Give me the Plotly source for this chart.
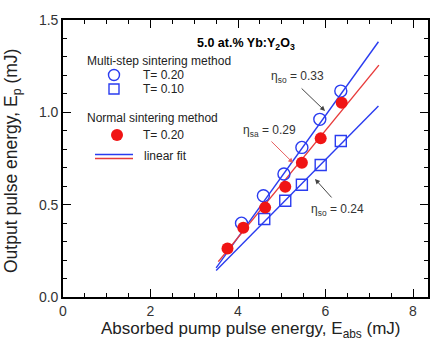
import plotly.graph_objects as go
import numpy as np

# ---- data ----
multi_T020_x = [4.08, 4.58, 5.05, 5.46, 5.87, 6.35]
multi_T020_y = [0.40, 0.548, 0.666, 0.81, 0.962, 1.115]
multi_T010_x = [4.60, 5.08, 5.46, 5.89, 6.35]
multi_T010_y = [0.422, 0.521, 0.608, 0.715, 0.845]
normal_T020_x = [3.76, 4.12, 4.62, 5.08, 5.46, 5.89, 6.37]
normal_T020_y = [0.263, 0.375, 0.484, 0.597, 0.727, 0.859, 1.052]

fit_names = ["multi_020", "normal_020", "multi_010"]
fit_slopes = [0.33, 0.29, 0.24]
fit_intercepts = [-0.997, -0.838, -0.696]
fit_x_start = [3.5, 3.55, 3.5]
fit_x_end = [7.21, 7.22, 7.21]

x_ticks = [0, 2, 4, 6, 8]
y_ticks = [0.0, 0.5, 1.0, 1.5]

BLUE = "#2a3cf0"
RED = "#f01414"
REDLINE = "#e83a3a"
FONT = "Liberation Sans, Arial, sans-serif"

fig = go.Figure()

fit_colors = [BLUE, REDLINE, BLUE]
for s, b, x0, x1, c in zip(fit_slopes, fit_intercepts, fit_x_start, fit_x_end, fit_colors):
    xs = np.array([x0, x1])
    fig.add_trace(go.Scatter(x=xs, y=s * xs + b, mode="lines",
                             line=dict(color=c, width=1.4), showlegend=False))

fig.add_trace(go.Scatter(x=multi_T020_x, y=multi_T020_y, mode="markers",
                         marker=dict(symbol="circle-open", size=12, color=BLUE,
                                     line=dict(width=1.4, color=BLUE)), showlegend=False))
fig.add_trace(go.Scatter(x=multi_T010_x, y=multi_T010_y, mode="markers",
                         marker=dict(symbol="square-open", size=11, color=BLUE,
                                     line=dict(width=1.4, color=BLUE)), showlegend=False))
fig.add_trace(go.Scatter(x=normal_T020_x, y=normal_T020_y, mode="markers",
                         marker=dict(symbol="circle", size=12, color=RED,
                                     line=dict(width=0)), showlegend=False))

L, T, W, H = 63, 20, 365, 277
def px(x):
    return (x - L) / W
def py(y):
    return (T + H - y) / H

annotations = []
def txt(text, x, y, size=12, xanchor="left", bold=False, color="#222", angle=0):
    annotations.append(dict(text=("<b>%s</b>" % text) if bold else text,
                            x=px(x), y=py(y), xref="paper", yref="paper",
                            xanchor=xanchor, yanchor="middle", showarrow=False,
                            textangle=angle,
                            font=dict(family=FONT, size=size, color=color)))

txt("5.0 at.% Yb:Y<sub>2</sub>O<sub>3</sub>", 246, 44, size=12.5, xanchor="center", bold=True, color="#000")
txt("Multi-step sintering method", 85, 61, size=12)
txt("T= 0.20", 141, 75, size=12)
txt("T= 0.10", 141, 89, size=12)
txt("Normal sintering method", 85, 118, size=12)
txt("T= 0.20", 141, 135, size=12)
txt("linear fit", 142, 156, size=12)

# axis titles
txt("Absorbed pump pulse energy, E<sub>abs</sub> (mJ)", 251, 330, size=17, xanchor="center")
txt("Output pulse energy, E<sub>p</sub> (mJ)", 12, 161, size=17.5, xanchor="center", angle=-90)

# efficiency labels
annotations.append(dict(text="η<sub>so</sub> = 0.33", x=5.37, y=1.19, xref="x", yref="y",
                        showarrow=False, font=dict(family=FONT, size=12, color="#333")))
annotations.append(dict(text="η<sub>sa</sub> = 0.29", x=4.72, y=0.90, xref="x", yref="y",
                        showarrow=False, font=dict(family=FONT, size=12, color="#333")))
annotations.append(dict(text="η<sub>so</sub> = 0.24", x=6.28, y=0.47, xref="x", yref="y",
                        showarrow=False, font=dict(family=FONT, size=12, color="#333")))
# arrows
for (hx, hy, tx, ty, c) in [(5.99, 1.007, 5.42, 1.137, "#444"),
                            (5.26, 0.726, 4.73, 0.85, "#e86060"),
                            (5.76, 0.639, 6.17, 0.531, "#444")]:
    annotations.append(dict(text="", x=hx, y=hy, ax=tx, ay=ty, xref="x", yref="y",
                            axref="x", ayref="y", showarrow=True, arrowhead=2,
                            arrowsize=1, arrowwidth=1, arrowcolor=c))

shapes = []
def mk(kind, x, y, r, color, fill):
    shapes.append(dict(type=kind, xref="paper", yref="paper", xsizemode="pixel",
                       ysizemode="pixel", xanchor=px(x), yanchor=py(y),
                       x0=-r, x1=r, y0=-r, y1=r,
                       line=dict(color=color, width=1.4 if fill is None else 0),
                       fillcolor=fill if fill else "rgba(0,0,0,0)"))
mk("circle", 114, 75, 5.5, BLUE, None)
mk("rect", 114, 89, 5, BLUE, None)
mk("circle", 117, 135, 6, RED, RED)
shapes.append(dict(type="line", xref="paper", yref="paper", x0=px(95), x1=px(133),
                   y0=py(154.5), y1=py(154.5), line=dict(color=BLUE, width=1.6)))
shapes.append(dict(type="line", xref="paper", yref="paper", x0=px(95), x1=px(133),
                   y0=py(158.5), y1=py(158.5), line=dict(color=REDLINE, width=1.6)))

axis_common = dict(showline=True, linecolor="black", linewidth=1.6, mirror="allticks",
                   ticks="inside", tickcolor="black", tickwidth=1.4, ticklen=8,
                   showgrid=False, zeroline=False, automargin=False,
                   tickfont=dict(family=FONT, size=14, color="#333"))

fig.update_layout(
    width=430, height=343,
    margin=dict(l=L, r=430 - L - W, t=T, b=343 - T - H),
    plot_bgcolor="white", paper_bgcolor="white",
    showlegend=False,
    xaxis=dict(range=[0, W / 43.75], tickvals=x_ticks, ticktext=[str(v) for v in x_ticks],
               minor=dict(dtick=0.5, ticks="inside", ticklen=4, tickcolor="black", tickwidth=1.2),
               **axis_common),
    yaxis=dict(range=[0, 1.5], tickvals=y_ticks, ticktext=["0.0", "0.5", "1.0", "1.5"],
               minor=dict(dtick=0.1, ticks="inside", ticklen=4, tickcolor="black", tickwidth=1.2),
               **axis_common),
    annotations=annotations,
    shapes=shapes,
)

fig.write_html("out.html", config={"displayModeBar": False},
               post_script="document.body.style.margin='0';document.body.style.overflow='hidden';")
